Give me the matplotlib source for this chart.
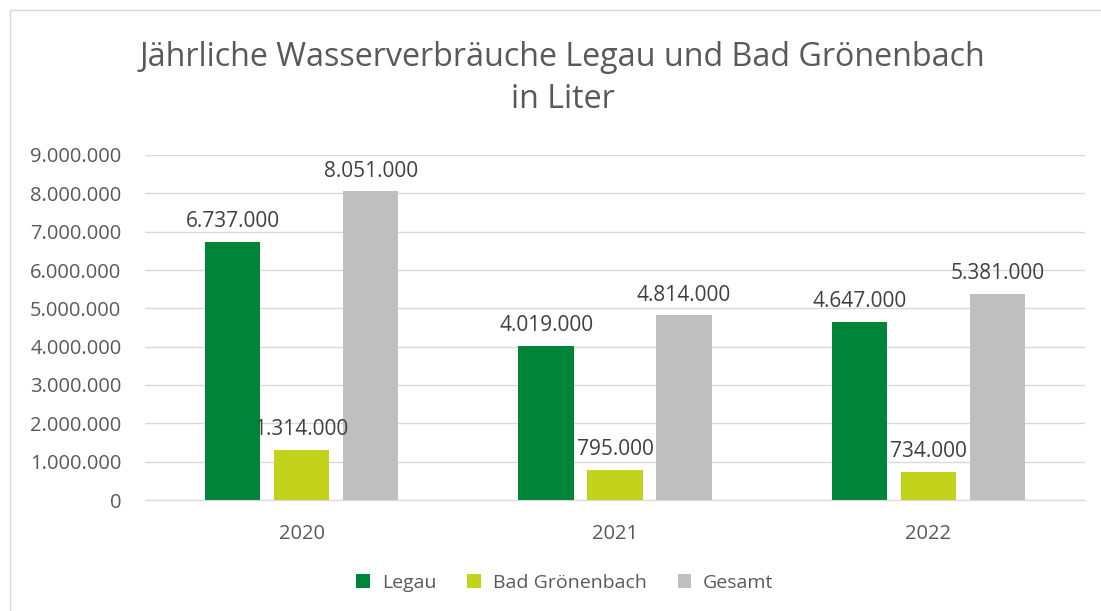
import matplotlib.pyplot as plt
import numpy as np
from matplotlib.patches import Rectangle

# ------------------ DATA ------------------
years = ["2020", "2021", "2022"]
legau = [6737000, 4019000, 4647000]
bad_groenenbach = [1314000, 795000, 734000]
gesamt = [8051000, 4814000, 5381000]
series_names = ["Legau", "Bad Grönenbach", "Gesamt"]
colors = ["#00843a", "#c3d21a", "#bfbfbf"]

TEXT = "#595959"
plt.rcParams["font.family"] = ["Open Sans", "DejaVu Sans"]


def fmt_de(v):
    return f"{int(v):,}".replace(",", ".")


fig = plt.figure(figsize=(11.01, 6.11), dpi=100)
# outer chart border
fig.patches.append(Rectangle((10 / 1101, -0.01), 1.02, 1 - 10 / 611 + 0.01,
                             transform=fig.transFigure, fill=False,
                             edgecolor="#d9d9d9", linewidth=1))

ax = fig.add_axes([145 / 1101, 1 - 500 / 611, 940 / 1101, 345 / 611])

x = np.arange(len(years))
w = 0.176
offs = [-0.22, 0.0, 0.22]
for vals, name, col, off in zip([legau, bad_groenenbach, gesamt], series_names, colors, offs):
    bars = ax.bar(x + off, vals, width=w, color=col, label=name, zorder=2)
    for b, v in zip(bars, vals):
        ax.annotate(fmt_de(v), (b.get_x() + b.get_width() / 2, v),
                    xytext=(0, 7), textcoords="offset points",
                    ha="center", va="bottom", fontsize=15, color="#404040")

ax.set_xlim(-0.5, 2.5)
ax.set_ylim(0, 9000000)
ax.set_yticks(np.arange(0, 9000001, 1000000))
ax.set_yticklabels([fmt_de(v) for v in np.arange(0, 9000001, 1000000)])
ax.set_xticks(x)
ax.set_xticklabels(years)
ax.tick_params(axis="both", length=0, labelsize=14.5, colors=TEXT)
ax.tick_params(axis="x", pad=17)
ax.tick_params(axis="y", pad=17)
ax.grid(axis="y", color="#d9d9d9", linewidth=1, zorder=0)
ax.set_axisbelow(True)
for s in ["top", "right", "left"]:
    ax.spines[s].set_visible(False)
ax.spines["bottom"].set_color("#d9d9d9")

fig.text(0.511, 1 - 57 / 611, "Jährliche Wasserverbräuche Legau und Bad Grönenbach",
         ha="center", va="center", fontsize=23.2, color=TEXT)
fig.text(0.511, 1 - 100 / 611, "in Liter", ha="center", va="center", fontsize=23.2, color=TEXT)

leg = fig.legend(loc="center", bbox_to_anchor=(0.513, 1 - 583 / 611), ncol=3,
                 frameon=False, fontsize=14, handlelength=0.7, handleheight=0.7,
                 columnspacing=1.6, handletextpad=0.6)
for t in leg.get_texts():
    t.set_color(TEXT)

fig.savefig("out.png", dpi=100)
